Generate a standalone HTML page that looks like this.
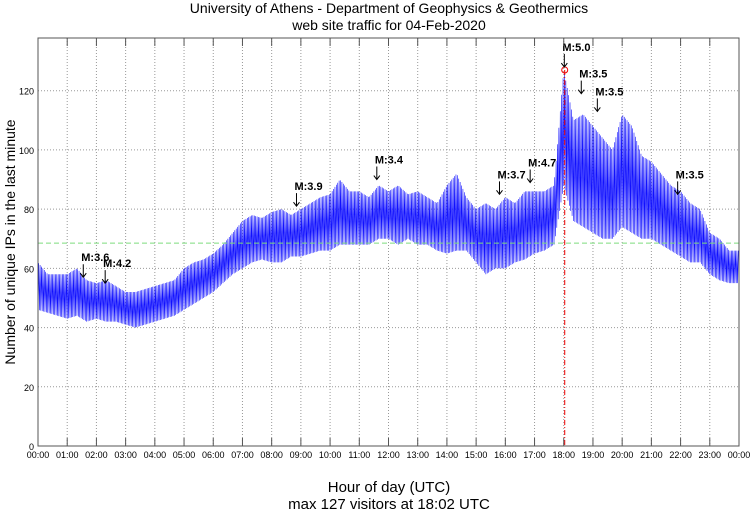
<!DOCTYPE html>
<html><head><meta charset="utf-8"><style>
body{margin:0;background:#fff;width:750px;height:511px;overflow:hidden;font-family:"Liberation Sans",sans-serif}
</style></head><body>
<svg id="c" width="750" height="511" xmlns="http://www.w3.org/2000/svg" font-family="Liberation Sans, sans-serif">
<text x="389" y="13" text-anchor="middle" font-size="14">University of Athens - Department of Geophysics &amp; Geothermics</text>
<text x="389" y="30" text-anchor="middle" font-size="14">web site traffic for 04-Feb-2020</text>
<text transform="translate(15,242) rotate(-90)" text-anchor="middle" font-size="14">Number of unique IPs in the last minute</text>
<text x="389" y="492" text-anchor="middle" font-size="15">Hour of day (UTC)</text>
<text x="389" y="509" text-anchor="middle" font-size="15">max 127 visitors at 18:02 UTC</text>
<g id="grid"></g><g id="series"></g><g id="ann"></g><g id="axes"></g>
</svg>
<script>
const lo=[46,45,44,43,44,42,43,42,42,41,40,41,42,43,44,46,48,50,52,55,58,60,62,63,62,62,64,64,65,66,66,68,68,68,68,70,70,68,70,68,68,66,65,66,66,62,58,60,60,62,63,65,66,68,88,76,74,72,70,70,74,72,70,70,68,66,64,62,62,58,56,55];
const hi=[62,58,58,58,60,56,55,56,54,52,52,53,54,55,56,60,62,63,65,68,72,76,78,77,79,80,78,80,82,84,85,90,86,86,84,88,86,88,85,86,84,82,88,92,84,80,82,80,84,82,86,86,86,88,127,110,112,108,104,100,112,108,98,96,92,88,86,82,80,72,70,66];
const yTicks=[0,20,40,60,80,100,120];
const hours=[...Array(25).keys()];
const meanVal=68.5, maxVal=127, maxHour=18+2/60;
const notes=[["M:3.6",1.55,57],["M:4.2",2.3,55],["M:3.9",8.85,81],["M:3.4",11.6,90],["M:3.7",15.8,85],["M:4.7",16.85,89],["M:5.0",18.02,128],["M:3.5",18.6,119],["M:3.5",19.15,113],["M:3.5",21.9,85]];
const NS="http://www.w3.org/2000/svg";
const L=38,R=739,T=38,B=446;
const X=h=>L+h*(R-L)/24, Y=v=>B-v*(B-T)/137.8;
function mk(t,a,p){const e=document.createElementNS(NS,t);for(const k in a)e.setAttribute(k,a[k]);(p||document.getElementById('c')).appendChild(e);return e;}
const g=document.getElementById('grid'),ax=document.getElementById('axes'),s=document.getElementById('series'),an=document.getElementById('ann');
yTicks.forEach(v=>{
 const l=mk('line',{x1:L,x2:R,y1:Y(v),y2:Y(v),stroke:'#999','stroke-dasharray':'1,2','stroke-width':1},g);
 
 
 const t=mk('text',{x:L-4,y:Y(v)+4,'text-anchor':'end','font-size':9},ax);t.textContent=v;
 
 
});
hours.forEach(h=>{
 const l=mk('line',{x1:X(h),x2:X(h),y1:T,y2:B,stroke:'#999','stroke-dasharray':'1,2'},g);
 
 
 mk('line',{x1:X(h),x2:X(h),y1:B,y2:B-8,stroke:'#555'},ax);
 mk('line',{x1:X(h),x2:X(h),y1:T,y2:T+8,stroke:'#555'},ax);
 const t=mk('text',{x:X(h),y:B+12,'text-anchor':'middle','font-size':9},ax);t.textContent=String(h%24).padStart(2,'0')+':00';
 
 
});
const fr=mk('rect',{x:L,y:T,width:R-L,height:B-T,fill:'none',stroke:'#555'},ax);


let pts=[];const n=lo.length,steps=14;
for(let i=0;i<n;i++){const nx=Math.min(i+1,n-1);for(let k=0;k<steps;k++){const f=k/steps;const h=(i+f)*24/n;const lv=lo[i]+(lo[nx]-lo[i])*f,hv=hi[i]+(hi[nx]-hi[i])*f;pts.push(X(h)+','+Y(k%2?hv:lv));}}
const pl=mk('polyline',{points:pts.join(' '),fill:'none',stroke:'#1010ff','stroke-width':0.6},s);


const ml=mk('line',{x1:L,x2:R,y1:Y(meanVal),y2:Y(meanVal),stroke:'#7ddc7d','stroke-dasharray':'5,3'},s);


const vl=mk('line',{x1:X(maxHour),x2:X(maxHour),y1:Y(maxVal),y2:B,stroke:'#e00','stroke-dasharray':'5,2,1,2'},s);


const mc=mk('circle',{cx:X(maxHour),cy:Y(maxVal),r:3,fill:'none',stroke:'#e00'},s);


notes.forEach(nn=>{
 const x=X(nn[1]),y=Y(nn[2]);
 const t=mk('text',{x:x-2,y:y-16,'font-size':11,'font-weight':'bold'},an);t.textContent=nn[0];
 
 
 const a=mk('path',{d:`M${x},${y-13}V${y}M${x-3},${y-4}L${x},${y}L${x+3},${y-4}`,stroke:'#000',fill:'none'},an);
 
 
});
</script>
</body></html>
